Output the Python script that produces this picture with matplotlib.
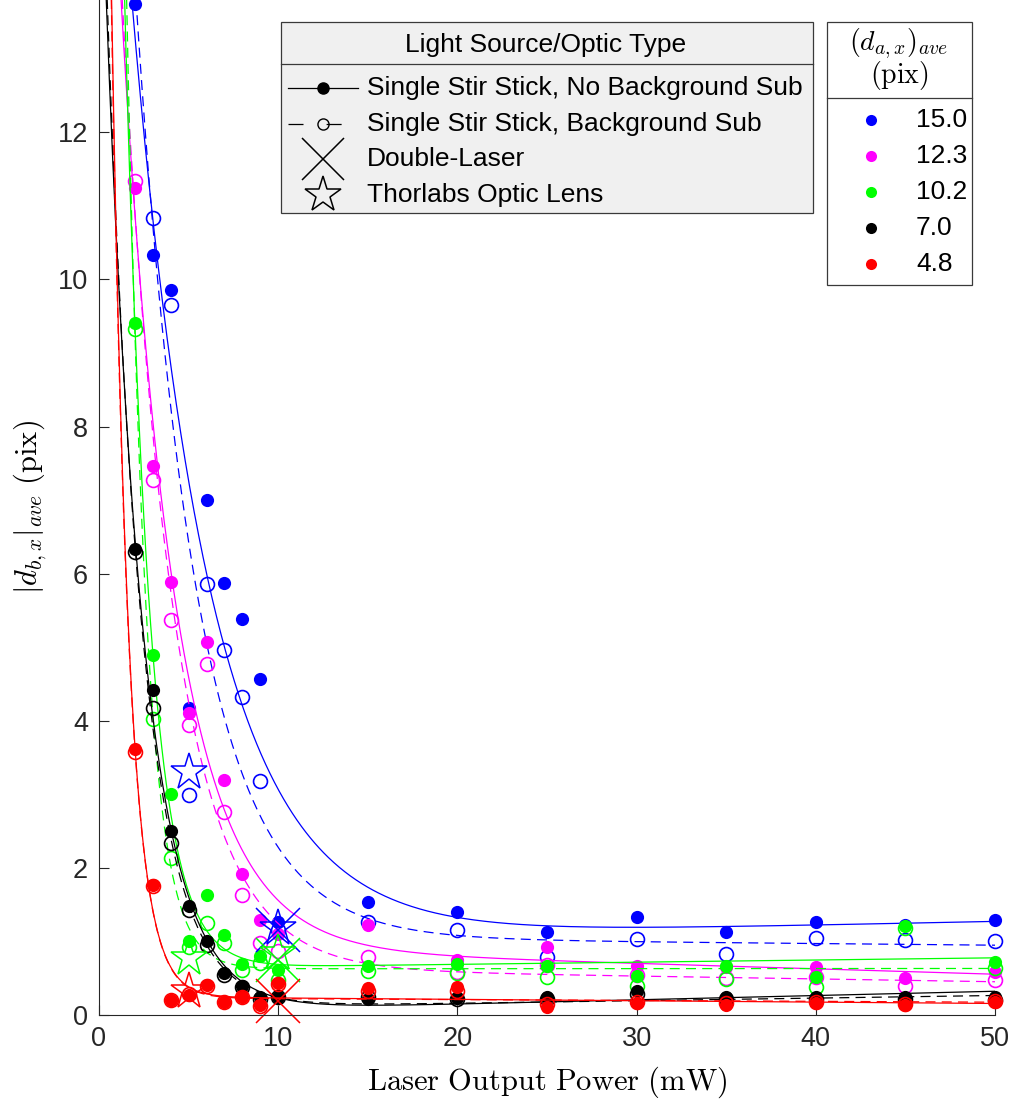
import numpy as np
import matplotlib
matplotlib.use("Agg")
import matplotlib.pyplot as plt
from matplotlib.lines import Line2D
from matplotlib.patches import Rectangle

plt.rcParams['font.family'] = ['Liberation Sans', 'DejaVu Sans']
plt.rcParams['mathtext.fontset'] = 'cm'

# ---------------- data ----------------
power = [2, 3, 4, 5, 6, 7, 8, 9, 10, 15, 20, 25, 30, 35, 40, 45, 50]
series_labels = ['15.0', '12.3', '10.2', '7.0', '4.8']
series_colors = ['#0000ff', '#ff00ff', '#00ff00', '#000000', '#ff0000']

# no background subtraction (filled dots)
nobg_15_0 = [13.75, 10.33, 9.86, 4.18, 7.00, 5.88, 5.38, 4.57, 1.27, 1.54, 1.40, 1.13, 1.33, 1.13, 1.26, 1.23, 1.29]
nobg_12_3 = [11.25, 7.47, 5.89, 4.11, 5.07, 3.19, 1.92, 1.29, 1.10, 1.22, 0.75, 0.92, 0.66, 0.65, 0.65, 0.50, 0.59]
nobg_10_2 = [9.41, 4.89, 3.00, 1.00, 1.63, 1.09, 0.69, 0.80, 0.61, 0.66, 0.70, 0.66, 0.53, 0.66, 0.52, 1.21, 0.72]
nobg_7_0 = [6.33, 4.42, 2.50, 1.48, 1.00, 0.57, 0.39, 0.24, 0.24, 0.22, 0.23, 0.25, 0.32, 0.25, 0.24, 0.25, 0.25]
nobg_4_8 = [3.61, 1.77, 0.20, 0.27, 0.41, 0.17, 0.25, 0.14, 0.44, 0.37, 0.38, 0.11, 0.16, 0.14, 0.16, 0.14, 0.18]

# background subtraction (open circles)
bg_15_0 = [np.nan, 10.83, 9.66, 2.99, 5.86, 4.96, 4.33, 3.18, 1.15, 1.26, 1.15, 0.79, 1.03, 0.83, 1.05, 1.02, 1.00]
bg_12_3 = [11.34, 7.28, 5.37, 3.94, 4.77, 2.76, 1.63, 0.98, 0.87, 0.79, 0.59, 0.68, 0.54, 0.50, 0.52, 0.39, 0.47]
bg_10_2 = [9.33, 4.03, 2.13, 0.93, 1.25, 0.98, 0.61, 0.71, 0.47, 0.60, 0.57, 0.52, 0.39, 0.49, 0.38, 1.18, 0.64]
bg_7_0 = [6.30, 4.18, 2.34, 1.43, 0.95, 0.55, 0.38, 0.22, 0.24, 0.25, 0.22, 0.22, 0.28, 0.22, 0.22, 0.22, 0.20]
bg_4_8 = [3.58, 1.75, 0.20, 0.28, 0.40, 0.17, 0.25, 0.12, 0.42, 0.33, 0.33, 0.15, 0.18, 0.16, 0.17, 0.15, 0.19]

nobg_series = [nobg_15_0, nobg_12_3, nobg_10_2, nobg_7_0, nobg_4_8]
bg_series = [bg_15_0, bg_12_3, bg_10_2, bg_7_0, bg_4_8]

# Double-laser (X) and Thorlabs lens (star) measurements
special_colors = ['#0000ff', '#00ff00', '#ff0000']
double_laser_x = [10, 10, 10]
double_laser_y = [1.15, 0.75, 0.19]
thorlabs_x = [5, 5, 5, 10, 10]
thorlabs_y = [3.31, 0.77, 0.33, 1.18, 0.84]
thorlabs_c = ['#0000ff', '#00ff00', '#ff0000', '#0000ff', '#00ff00']

legend_title = 'Light Source/Optic Type'
legend_entries = ['Single Stir Stick, No Background Sub', 'Single Stir Stick, Background Sub',
                  'Double-Laser', 'Thorlabs Optic Lens']

x_ticks = [0, 10, 20, 30, 40, 50]
y_ticks = [0, 2, 4, 6, 8, 10, 12]


def fit_curve(x, y):
    x = np.asarray(x, float)
    y = np.asarray(y, float)
    m = ~np.isnan(y)
    x, y = x[m], y[m]
    best = None
    for b in np.linspace(0.05, 3.0, 1200):
        A = np.column_stack([np.exp(-b * x), np.ones_like(x), x])
        coef = np.linalg.lstsq(A, y, rcond=None)[0]
        r = np.sum((A @ coef - y) ** 2)
        if best is None or r < best[0]:
            best = (r, b, coef)
    _, b, c = best
    return lambda t: c[0] * np.exp(-b * t) + c[1] + c[2] * t


# ---------------- figure ----------------
W, H = 1015, 1104
fig = plt.figure(figsize=(W / 100, H / 100), dpi=100)
ax = fig.add_axes([99 / W, (H - 1015) / H, (995 - 99) / W, 1015 / H])

xx = np.linspace(0.2, 50, 800)
for col, ys_n, ys_b in zip(series_colors, nobg_series, bg_series):
    f1 = fit_curve(power, ys_n)
    f2 = fit_curve(power, ys_b)
    ax.plot(xx, f1(xx), '-', color=col, lw=0.9)
    ax.plot(xx, f2(xx), color=col, lw=0.9, dashes=(8, 5))
    ax.plot(power, ys_n, 'o', color=col, ms=9.5, mec='none', ls='none', clip_on=False)
    ax.plot(power, ys_b, 'o', mfc='none', mec=col, mew=1.2, ms=10, ls='none', clip_on=False)

for xv, yv, c in zip(double_laser_x, double_laser_y, special_colors):
    ax.plot([xv], [yv], 'x', color=c, ms=31, mew=1.1, clip_on=False)
for xv, yv, c in zip(thorlabs_x, thorlabs_y, thorlabs_c):
    ax.plot([xv], [yv], '*', mfc='none', mec=c, ms=28, mew=1.1, clip_on=False)

ax.set_xlim(0, 50)
ax.set_ylim(0, 13.8)
ax.set_xticks(x_ticks)
ax.set_yticks(y_ticks)
for s in ['top', 'right']:
    ax.spines[s].set_visible(False)
for s in ['left', 'bottom']:
    ax.spines[s].set_color('#262626')
    ax.spines[s].set_linewidth(0.8)
ax.tick_params(direction='in', length=7, width=0.8, color='#262626',
               labelsize=19.5, labelcolor='#262626', pad=8)
ax.set_xlabel(r'$\mathrm{Laser\ Output\ Power\ (mW)}$', fontsize=22, labelpad=9)
ax.set_ylabel(r'$|d_{b,x}|_{ave}\ \mathrm{(pix)}$', fontsize=22, labelpad=6)

# ---------------- legends (overlay in pixel coords) ----------------
ov = fig.add_axes([0, 0, 1, 1], zorder=10)
ov.set_xlim(0, W)
ov.set_ylim(H, 0)
ov.axis('off')

# left legend
ov.add_patch(Rectangle((281, 22), 813 - 281, 213 - 22, facecolor='#f0f0f0',
                       edgecolor='#3a3a3a', lw=0.9))
ov.plot([281, 813], [64, 64], color='#3a3a3a', lw=0.9)
ov.text(546, 45, legend_title, ha='center', va='center', fontsize=19, color='black')
rows = [88, 124, 159, 195]
ov.plot([288, 358], [rows[0]] * 2, '-', color='black', lw=0.9)
ov.plot([323], [rows[0]], 'o', color='black', ms=8)
ov.plot([288, 358], [rows[1]] * 2, color='black', lw=0.9, dashes=(12, 18.5))
ov.plot([323], [rows[1]], 'o', mfc='none', mec='black', ms=8, mew=1)
ov.plot([323], [rows[2]], 'x', color='black', ms=30, mew=1.1)
ov.plot([323], [rows[3]], '*', mfc='none', mec='black', ms=27, mew=1.1)
for r, t in zip(rows, legend_entries):
    ov.text(367, r, t, ha='left', va='center', fontsize=19, color='black')

# right legend
ov.add_patch(Rectangle((827, 22), 972 - 827, 285 - 22, facecolor='white',
                       edgecolor='#3a3a3a', lw=0.9))
ov.plot([827, 972], [98, 98], color='#3a3a3a', lw=0.9)
ov.text(899, 44, r'$(d_{a,x})_{ave}$', ha='center', va='center', fontsize=20)
ov.text(899, 76, r'$\mathrm{(pix)}$', ha='center', va='center', fontsize=20)
rrows = [120, 156, 192, 228, 264]
for r, c, lab in zip(rrows, series_colors, series_labels):
    ov.plot([871], [r], 'o', color=c, ms=8, mec='none')
    ov.text(916, r, lab, ha='left', va='center', fontsize=19, color='black')

fig.savefig('out.png', dpi=100)
